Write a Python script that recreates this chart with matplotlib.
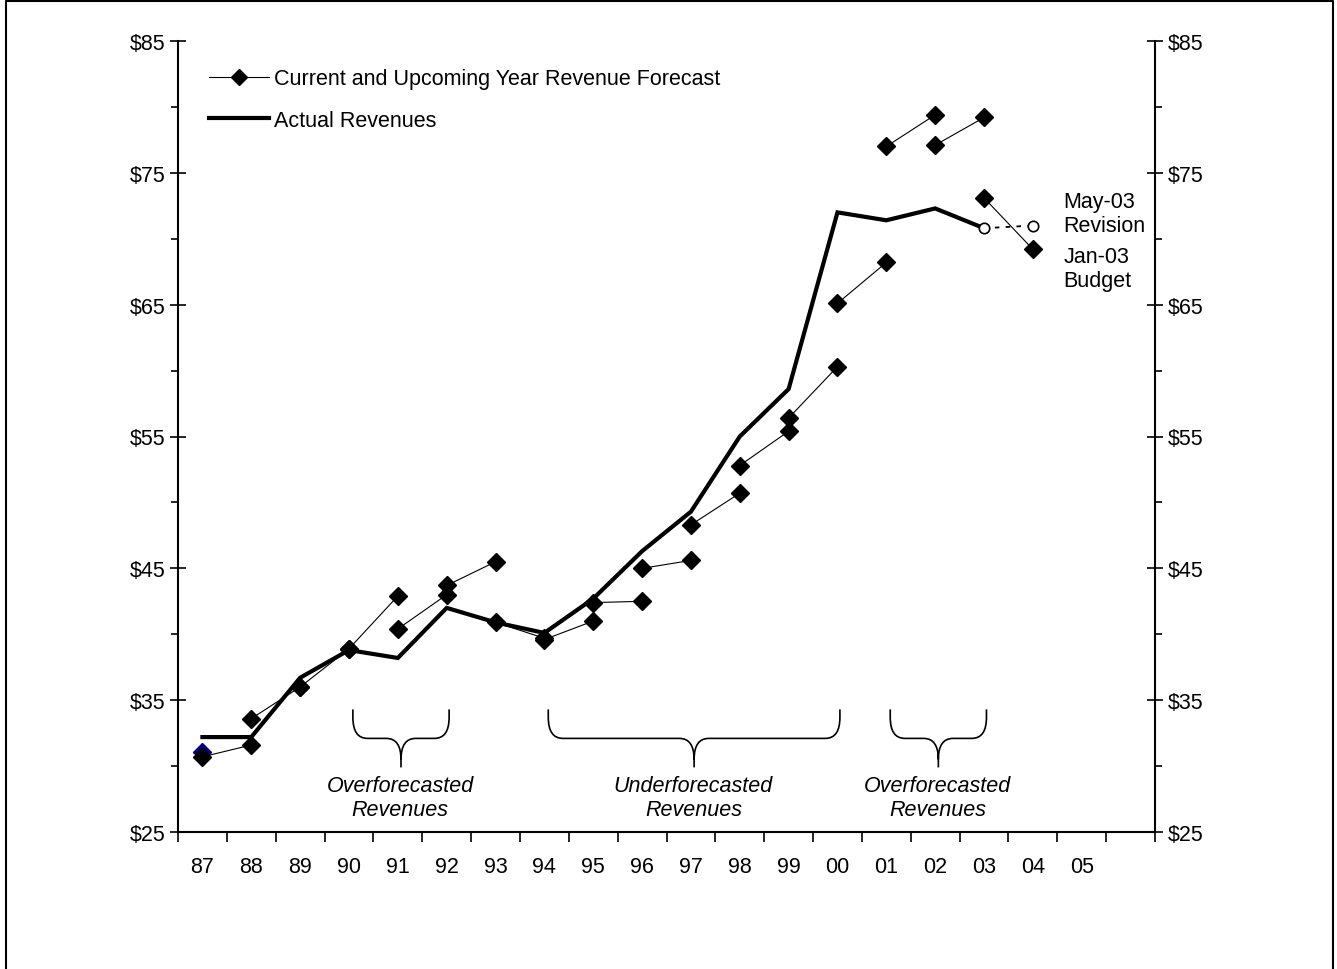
import matplotlib
matplotlib.use("Agg")
import matplotlib.pyplot as plt
from matplotlib.path import Path
from matplotlib.patches import PathPatch
from matplotlib.lines import Line2D
from matplotlib.ticker import FixedLocator

plt.rcParams['font.family'] = ['Liberation Sans', 'DejaVu Sans']

# fiscal years on the category axis (one empty slot after 05)
years = ['87', '88', '89', '90', '91', '92', '93', '94', '95', '96',
         '97', '98', '99', '00', '01', '02', '03', '04', '05', '']

# actual revenues, 87 through 03
actual = [32.2, 32.2, 36.7, 38.8, 38.2, 42.0, 40.9, 40.1, 42.7, 46.3,
          49.3, 55.0, 58.6, 72.0, 71.4, 72.3, 70.8]

# May-03 revision for 03 and 04
revision_years = ['03', '04']
revision = [70.8, 71.0]

# each forecast: year made, current-year value, upcoming-year value
fc_year = ['87', '88', '89', '90', '91', '92', '93', '94', '95', '96',
           '97', '98', '99', '00', '01', '02', '03']
fc_current = [30.7, 33.6, 36.0, 38.9, 40.4, 43.7, 40.9, 39.6, 42.4, 45.0,
              48.3, 52.8, 56.4, 65.1, 77.0, 77.1, 73.1]
fc_upcoming = [31.6, 36.0, 38.9, 42.9, 43.0, 45.5, 39.7, 41.0, 42.5, 45.6,
               50.7, 55.4, 60.3, 68.2, 79.4, 79.2, 69.2]

# early single estimate for 87
early_87 = 31.1

# bracket groups: (first year, last year, label)
brackets = [('90', '92', 'Overforecasted\nRevenues'),
            ('94', '00', 'Underforecasted\nRevenues'),
            ('01', '03', 'Overforecasted\nRevenues')]

y_labels = [25, 35, 45, 55, 65, 75, 85]

pos = {y: i for i, y in enumerate(years)}
FS = 15.5

fig = plt.figure(figsize=(13.37, 9.70), dpi=100)
ax = fig.add_axes([178/1337, 1 - 833/970, 977/1337, 791/970])

# actual revenue line
ax.plot([pos[y] for y in years[:len(actual)]], actual, color='black', lw=3,
        solid_joinstyle='miter', zorder=3)

# forecasts, each as a short two-point segment
ax.plot(pos['87'], early_87, marker='D', color='#000080', ms=9, ls='none', zorder=3)
for y, c, u in zip(fc_year, fc_current, fc_upcoming):
    ax.plot([pos[y], pos[y] + 1], [c, u], color='black', lw=0.8,
            marker='D', ms=9, zorder=4)

# revision
ax.plot([pos[y] for y in revision_years], revision, color='black', lw=1.3,
        ls=(0, (2.5, 3.5)), marker='o', ms=7.5, mfc='white', mec='black', mew=1.2, zorder=5)

ax.text(17.62, 71.9, 'May-03\nRevision', fontsize=FS, va='center', ha='left', linespacing=1.2)
ax.text(17.62, 67.75, 'Jan-03\nBudget', fontsize=FS, va='center', ha='left', linespacing=1.2)


def brace(ax, x0, x1, ytop=34.3, ymid=32.1, ybot=29.9, dx=0.3, r=1.6):
    xc = (x0 + x1) / 2
    verts = [(x0, ytop), (x0, ymid + r), (x0, ymid), (x0 + dx, ymid),
             (xc - dx, ymid), (xc, ymid), (xc, ymid - r), (xc, ybot),
             (xc, ymid - r), (xc, ymid), (xc + dx, ymid),
             (x1 - dx, ymid), (x1, ymid), (x1, ymid + r), (x1, ytop)]
    codes = [Path.MOVETO, Path.LINETO, Path.CURVE3, Path.CURVE3,
             Path.LINETO, Path.CURVE3, Path.CURVE3, Path.LINETO,
             Path.MOVETO, Path.CURVE3, Path.CURVE3,
             Path.LINETO, Path.CURVE3, Path.CURVE3, Path.LINETO]
    ax.add_patch(PathPatch(Path(verts, codes), fill=False, lw=1.2, color='black'))


for a, b, label in brackets:
    brace(ax, pos[a] + 0.08, pos[b] + 0.05)
    ax.text((pos[a] + pos[b]) / 2 + 0.05, 27.6, label, fontsize=FS, style='italic',
            ha='center', va='center', linespacing=1.2)

ax.set_xlim(-0.5, len(years) - 0.5)
ax.set_ylim(25, 85)

ax.xaxis.set_major_locator(FixedLocator([i - 0.5 for i in range(len(years) + 1)]))
ax.xaxis.set_minor_locator(FixedLocator(range(len(years))))
ax.set_xticklabels([])
ax.set_xticklabels(years, minor=True)
ax.tick_params(axis='x', which='major', direction='out', length=7, width=1.2)
ax.tick_params(axis='x', which='minor', length=0, pad=17, labelsize=FS)

ax.yaxis.set_major_locator(FixedLocator(y_labels))
ax.yaxis.set_minor_locator(FixedLocator([v + 5 for v in y_labels[:-1]]))
ax.yaxis.set_major_formatter(lambda v, p: '${:.0f}'.format(v))
ax.tick_params(axis='y', which='major', direction='inout', length=12, width=1.2,
               labelsize=FS, pad=3, right=True, labelright=True)
ax.tick_params(axis='y', which='minor', direction='out', length=5, width=1.2, right=True)

ax.spines['top'].set_visible(False)
for s in ['left', 'right', 'bottom']:
    ax.spines[s].set_linewidth(1.5)

handles = [Line2D([], [], color='black', lw=0.8, marker='D', ms=8),
           Line2D([], [], color='black', lw=3)]
ax.legend(handles, ['Current and Upcoming Year Revenue Forecast', 'Actual Revenues'],
          loc='upper left', bbox_to_anchor=(0.012, 0.99), frameon=False, fontsize=FS,
          handlelength=2.8, handletextpad=0.2, labelspacing=0.95)

# outer frame
fig.add_artist(Line2D([6/1337, 6/1337, 1333/1337, 1333/1337], [0, 1 - 2/970, 1 - 2/970, 0],
                      transform=fig.transFigure, color='black', lw=1.5))

fig.savefig('out.png', dpi=100)
